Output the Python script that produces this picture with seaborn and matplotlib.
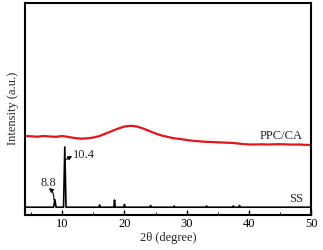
import matplotlib
matplotlib.use("Agg")
import matplotlib.pyplot as plt
import seaborn as sns
import pandas as pd

sns.set_theme(style="ticks")
plt.rcParams['font.family'] = ['Liberation Serif', 'DejaVu Serif']

# PPC/CA curve (2θ, intensity in arbitrary units)
ppc_x = [4, 5, 6, 7, 8, 9, 10, 11, 12, 13, 14, 15, 16, 17, 18, 19, 20, 21, 22, 23,
         24, 25, 26, 27, 28, 29, 30, 31, 32, 33, 34, 35, 36, 37, 38, 39, 40, 41,
         42, 43, 44, 45, 46, 47, 48, 49, 50]
ppc_y = [78.5, 78.2, 77.8, 78.5, 78.0, 77.7, 78.5, 77.5, 76.5, 75.8, 76.2, 77.0,
         78.5, 81.0, 83.5, 86.0, 88.0, 88.7, 88.0, 86.0, 83.5, 81.0, 79.0, 77.5,
         76.2, 75.5, 74.5, 73.7, 73.2, 72.7, 72.5, 72.2, 71.9, 71.7, 71.2, 70.5,
         70.1, 70.0, 70.2, 70.0, 70.2, 70.3, 70.1, 69.9, 70.0, 69.7, 69.5]

# SS pattern
ss_x = [4, 8.6, 8.8, 9.0, 10.2, 10.4, 10.6, 15.9, 16.0, 16.1, 18.3, 18.4, 18.5,
        19.9, 20.0, 20.1, 24.1, 24.2, 24.3, 27.9, 28.0, 28.1, 33.1, 33.2, 33.3,
        37.4, 37.5, 37.6, 38.4, 38.5, 38.6, 50]
ss_y = [7.3, 7.3, 15.0, 7.3, 7.3, 67.5, 7.3, 7.3, 9.5, 7.3, 7.3, 14.5, 7.3,
        7.3, 10.0, 7.3, 7.3, 9.0, 7.3, 7.3, 8.5, 7.3, 7.3, 8.5, 7.3,
        7.3, 8.5, 7.3, 7.3, 9.0, 7.3, 7.3]

ppc_df = pd.DataFrame({"theta": ppc_x, "intensity": ppc_y})
ss_df = pd.DataFrame({"theta": ss_x, "intensity": ss_y})

fig = plt.figure(figsize=(3.23, 2.5), dpi=100)
ax = fig.add_axes([25 / 323, 1 - 214.5 / 250, 286 / 323, 211.5 / 250])

sns.lineplot(data=ppc_df, x="theta", y="intensity", ax=ax, color="#e3141b", linewidth=1.6)
sns.lineplot(data=ss_df, x="theta", y="intensity", ax=ax, color="black", linewidth=1.2)

ax.set_xlim(4, 50)
ax.set_ylim(0, 211.5)
ax.set_yticks([])
ax.set_xticks([10, 20, 30, 40, 50])
ax.set_xticks([5, 15, 25, 35, 45], minor=True)
ax.tick_params(axis='x', direction='in', length=3.5, width=1.0, labelsize=9, pad=2.5, colors='black')
ax.tick_params(axis='x', which='minor', direction='in', length=2, width=0.8)
for s in ax.spines.values():
    s.set_linewidth(1.5)
    s.set_color('black')

ax.set_xlabel("2θ (degree)", fontsize=9, labelpad=1.5)
ax.set_ylabel("Intensity (a.u.)", fontsize=9, labelpad=4)

ax.text(48.7, 78.5, "PPC/CA", ha='right', va='center', fontsize=9)
ax.text(48.7, 15.5, "SS", ha='right', va='center', fontsize=9)

ax.text(11.7, 59.5, "10.4", ha='left', va='center', fontsize=9)
ax.annotate("", xy=(11.6, 58.5), xytext=(10.6, 55.0),
            arrowprops=dict(arrowstyle='-|>', color='black', lw=0.8, mutation_scale=6,
                            shrinkA=0, shrinkB=0))
ax.text(7.8, 32, "8.8", ha='center', va='center', fontsize=9)
ax.annotate("", xy=(7.85, 26.5), xytext=(8.65, 14.5),
            arrowprops=dict(arrowstyle='-|>', color='black', lw=0.8, mutation_scale=6,
                            shrinkA=0, shrinkB=0, connectionstyle="arc3,rad=0.25"))

fig.savefig("out.png", dpi=100)
